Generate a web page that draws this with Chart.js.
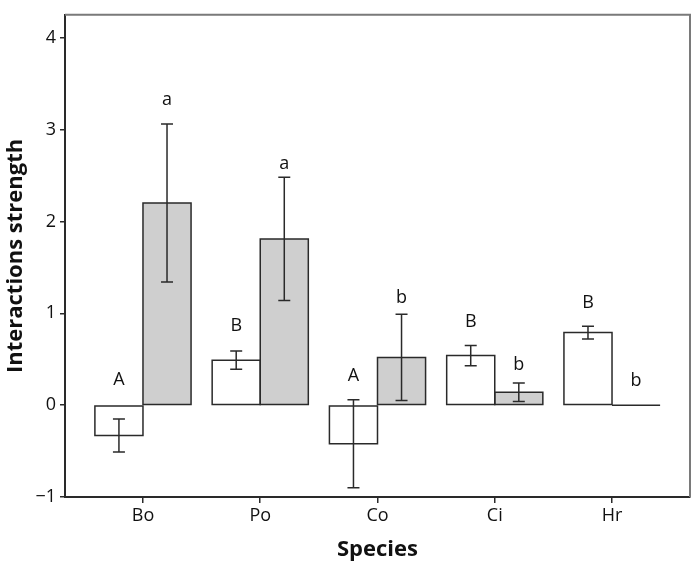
<!DOCTYPE html>
<html>
<head>
<meta charset="utf-8">
<script src="https://cdn.jsdelivr.net/npm/chart.js@4/dist/chart.umd.min.js"></script>
<style>
  html, body { margin: 0; padding: 0; background: #fff; }
  #wrap { width: 696px; height: 567px; }
</style>
</head>
<body>
<div id="wrap"><canvas id="c" width="696" height="567"></canvas></div>
<script>
const categories = ['Bo', 'Po', 'Co', 'Ci', 'Hr'];
const whiteMean = [-0.33, 0.49, -0.42, 0.54, 0.79];
const whiteErr  = [0.18, 0.10, 0.48, 0.11, 0.07];
const greyMean  = [2.20, 1.81, 0.52, 0.14, 0.00];
const greyErr   = [0.86, 0.67, 0.47, 0.10, 0.00];
const whiteLetters = ['A', 'B', 'A', 'B', 'B'];
const greyLetters  = ['a', 'a', 'b', 'b', 'b'];
const whiteLetterY = [0.27, 0.86, 0.32, 0.91, 1.11];
const greyLetterY  = [3.32, 2.63, 1.17, 0.44, 0.26];
const yTicks = [-1, 0, 1, 2, 3, 4];

const FONT = "'Open Sans', 'DejaVu Sans', sans-serif";
const DARK = '#2a2a2a';

const errs = [whiteErr, greyErr];
const letters = [whiteLetters, greyLetters];
const letterY = [whiteLetterY, greyLetterY];

const overlay = {
  id: 'overlay',
  afterDatasetsDraw(chart) {
    const ctx = chart.ctx;
    const ys = chart.scales.y;
    const a = chart.chartArea;
    ctx.save();
    ctx.strokeStyle = '#7a7a7a';
    ctx.lineWidth = 2;
    ctx.beginPath();
    ctx.moveTo(a.left, a.top);
    ctx.lineTo(a.right, a.top);
    ctx.lineTo(a.right, a.bottom);
    ctx.stroke();
    chart.data.datasets.forEach((ds, di) => {
      const meta = chart.getDatasetMeta(di);
      meta.data.forEach((bar, i) => {
        const v = ds.data[i].y;
        const e = errs[di][i];
        const half = bar.width / 2;
        ctx.strokeStyle = DARK;
        ctx.lineWidth = 1.5;
        // bar outline centred on its edges
        const top = Math.min(bar.y, bar.base);
        const h = Math.abs(bar.base - bar.y);
        ctx.beginPath();
        if (h < 0.5) {
          ctx.moveTo(bar.x - half, bar.base);
          ctx.lineTo(bar.x + half, bar.base);
        } else {
          ctx.rect(bar.x - half, top, bar.width, h);
        }
        ctx.stroke();
        if (e > 0) {
          const yt = ys.getPixelForValue(v + e);
          const yb = ys.getPixelForValue(v - e);
          const cap = 6;
          ctx.beginPath();
          ctx.moveTo(bar.x, yt); ctx.lineTo(bar.x, yb);
          ctx.moveTo(bar.x - cap, yt); ctx.lineTo(bar.x + cap, yt);
          ctx.moveTo(bar.x - cap, yb); ctx.lineTo(bar.x + cap, yb);
          ctx.stroke();
        }
        ctx.fillStyle = '#111';
        ctx.font = '18px ' + FONT;
        ctx.textAlign = 'center';
        ctx.textBaseline = 'middle';
        ctx.fillText(letters[di][i], bar.x, ys.getPixelForValue(letterY[di][i]));
      });
    });
    ctx.restore();
  }
};

new Chart(document.getElementById('c'), {
  type: 'bar',
  data: {
    datasets: [
      {
        data: whiteMean.map((v, i) => ({ x: i, y: v })),
        backgroundColor: '#ffffff',
        borderWidth: 0,
        inflateAmount: 0,
        categoryPercentage: 0.82,
        barPercentage: 1.0
      },
      {
        data: greyMean.map((v, i) => ({ x: i, y: v })),
        backgroundColor: '#cfcfcf',
        borderWidth: 0,
        inflateAmount: 0,
        categoryPercentage: 0.82,
        barPercentage: 1.0
      }
    ]
  },
  options: {
    responsive: false,
    animation: false,
    layout: { padding: { top: 5, right: 6, left: 0, bottom: 0 } },
    plugins: { legend: { display: false }, tooltip: { enabled: false } },
    scales: {
      x: {
        type: 'linear',
        offset: false,
        min: -0.665,
        max: 4.665,
        afterBuildTicks(scale) { scale.ticks = categories.map((c, i) => ({ value: i })); },
        afterFit(scale) { scale.height = 70; },
        ticks: {
          callback: (v) => categories[v] ?? '',
          font: { family: FONT, size: 18 },
          color: '#111',
          padding: 2,
          maxRotation: 0,
          autoSkip: false
        },
        grid: { offset: false, drawOnChartArea: false, drawTicks: true, tickLength: 6, color: DARK, lineWidth: 1.5 },
        border: { display: true, color: DARK, width: 2 },
        title: {
          display: true,
          text: 'Species',
          font: { family: FONT, size: 22, weight: 'bold' },
          color: '#111',
          padding: { top: 0, bottom: 4 }
        }
      },
      y: {
        min: -1,
        max: 4.25,
        afterBuildTicks(scale) { scale.ticks = yTicks.map(v => ({ value: v })); },
        afterFit(scale) { scale.width = 65; },
        ticks: {
          callback: (v) => v < 0 ? '\u2212' + Math.abs(v) : String(v),
          font: { family: FONT, size: 18 },
          color: '#111',
          padding: 4
        },
        grid: { drawOnChartArea: false, drawTicks: true, tickLength: 5, color: DARK, lineWidth: 1.5 },
        border: { display: true, color: DARK, width: 2 },
        title: {
          display: true,
          text: 'Interactions strength',
          font: { family: FONT, size: 22, weight: 'bold' },
          color: '#111',
          padding: { top: 3, bottom: 0 }
        }
      }
    }
  },
  plugins: [overlay]
});
</script>
</body>
</html>
